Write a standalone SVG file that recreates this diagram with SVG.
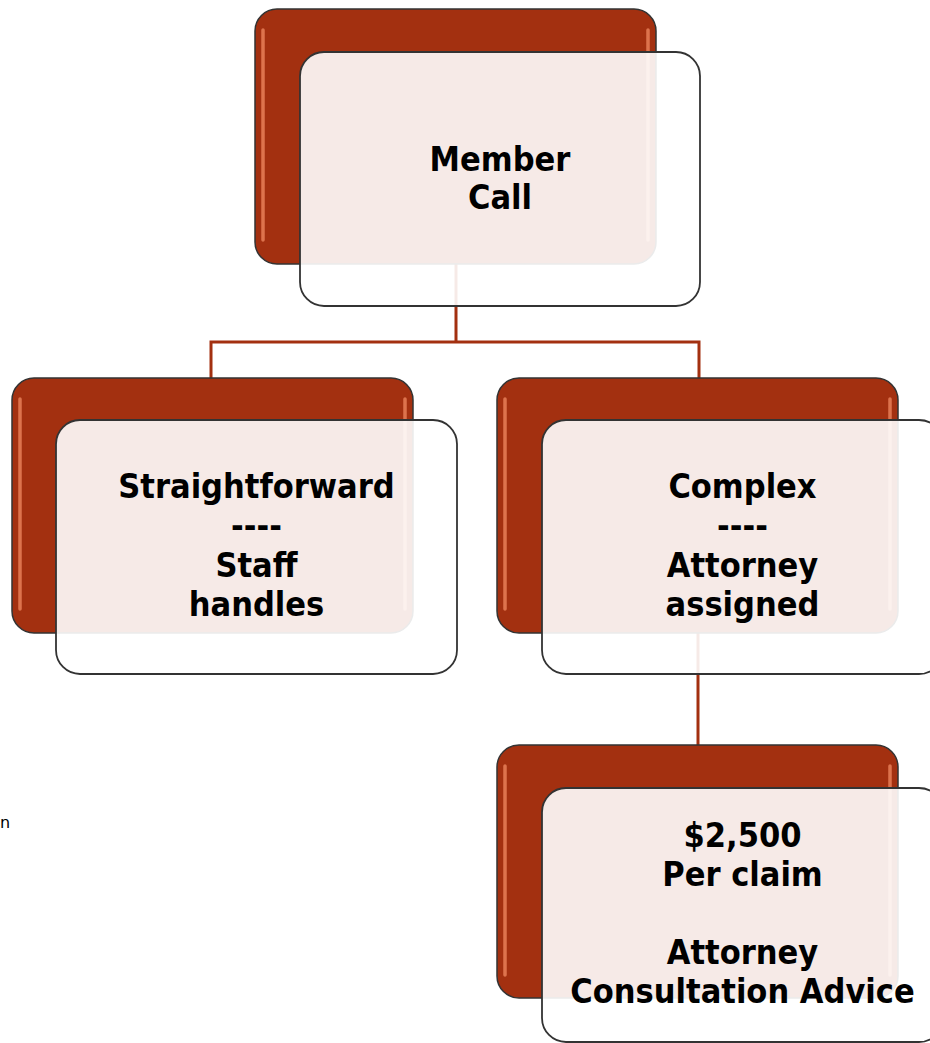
<svg xmlns="http://www.w3.org/2000/svg" width="930" height="1043" viewBox="0 0 930 1043">
<style>
.back{fill:#A33010;stroke:#333;stroke-width:1.5}
.hl{fill:none;stroke:#F08A62;stroke-width:3.5;stroke-linecap:round;opacity:0.75}
.front{fill:#fff;fill-opacity:0.9;stroke:#333;stroke-width:1.8}
.conn{fill:none;stroke:#A33010;stroke-width:3}
.t{font-family:"DejaVu Sans Condensed","DejaVu Sans",sans-serif;font-stretch:condensed;font-weight:bold;font-size:34px;fill:#000;text-anchor:middle}
</style>
<rect width="930" height="1043" fill="#fff"/>
<g id="connectors">
<path class="conn" d="M456,264 V342 M211,342 H699 M211,340.5 V378 M699,340.5 V378"/>
<path class="conn" d="M698,633 V745"/>
</g>
<g id="node-member-call">
<rect class="back" x="255" y="9" width="401" height="255" rx="22"/>
<path class="hl" d="M263,30 V240 M648,30 V240"/>
<rect class="front" x="300" y="52" width="400" height="254" rx="24"/>
<text class="t" x="500"><tspan x="500" y="171">Member</tspan><tspan x="500" y="209">Call</tspan></text>
</g>
<g id="node-straightforward">
<rect class="back" x="12" y="378" width="401" height="255" rx="22"/>
<path class="hl" d="M20,399 V609 M405,399 V609"/>
<rect class="front" x="56" y="420" width="401" height="254" rx="24"/>
<text class="t"><tspan x="256.5" y="498">Straightforward</tspan><tspan x="256.5" y="537">----</tspan><tspan x="256.5" y="577">Staff</tspan><tspan x="256.5" y="616">handles</tspan></text>
</g>
<g id="node-complex">
<rect class="back" x="497" y="378" width="401" height="255" rx="22"/>
<path class="hl" d="M505,399 V609 M890,399 V609"/>
<rect class="front" x="542" y="420" width="401" height="254" rx="24"/>
<text class="t"><tspan x="742.5" y="498">Complex</tspan><tspan x="742.5" y="537">----</tspan><tspan x="742.5" y="577">Attorney</tspan><tspan x="742.5" y="616">assigned</tspan></text>
</g>
<g id="node-attorney-consultation">
<rect class="back" x="497" y="745" width="401" height="253" rx="22"/>
<path class="hl" d="M505,766 V975 M890,766 V975"/>
<rect class="front" x="542" y="788" width="401" height="254" rx="24"/>
<text class="t"><tspan x="742.5" y="847">$2,500</tspan><tspan x="742.5" y="886">Per claim</tspan><tspan x="742.5" y="964">Attorney</tspan><tspan x="742.5" y="1003">Consultation Advice</tspan></text>
</g>
<text x="0" y="828" font-family="DejaVu Sans, sans-serif" font-size="16" fill="#000">n</text>
</svg>
